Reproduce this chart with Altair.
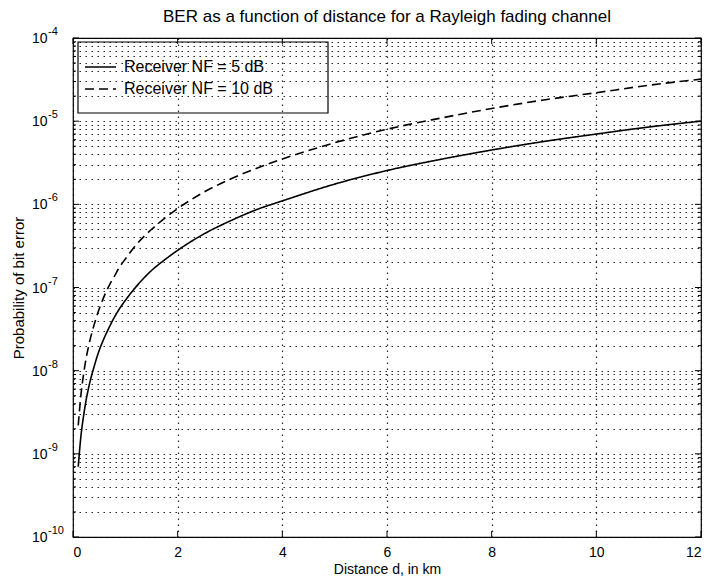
import altair as alt
import pandas as pd

FONT = "Liberation Sans"

# ---- data ----
distance_km = [0.1, 0.15, 0.2, 0.25, 0.3, 0.4, 0.5, 0.6, 0.7, 0.8, 0.9, 1.0, 1.25, 1.5,
               1.75, 2.0, 2.5, 3.0, 3.5, 4.0, 5.0, 6.0, 7.0, 8.0, 9.0, 10.0, 11.0, 12.0]
ber_nf5 = [7.0e-10, 1.6e-9, 2.8e-9, 4.4e-9, 6.3e-9, 1.1e-8, 1.75e-8, 2.5e-8, 3.4e-8,
           4.5e-8, 5.7e-8, 7.0e-8, 1.1e-7, 1.6e-7, 2.15e-7, 2.8e-7, 4.4e-7, 6.3e-7,
           8.6e-7, 1.1e-6, 1.75e-6, 2.55e-6, 3.45e-6, 4.5e-6, 5.7e-6, 7.0e-6, 8.5e-6, 1.0e-5]
ber_nf10 = [2.2e-9, 5.0e-9, 8.9e-9, 1.4e-8, 2.0e-8, 3.5e-8, 5.5e-8, 8.0e-8, 1.08e-7,
            1.4e-7, 1.8e-7, 2.2e-7, 3.5e-7, 5.0e-7, 6.8e-7, 8.9e-7, 1.4e-6, 2.0e-6,
            2.7e-6, 3.5e-6, 5.5e-6, 8.0e-6, 1.08e-5, 1.42e-5, 1.8e-5, 2.2e-5, 2.7e-5, 3.2e-5]
series_names = ["Receiver NF = 5 dB", "Receiver NF = 10 dB"]
x_ticks = [0, 2, 4, 6, 8, 10, 12]
decade_exponents = [-10, -9, -8, -7, -6, -5, -4]
minor_multipliers = [1, 2, 3, 4, 5, 6, 7, 8, 9]

W, H = 628, 499

y_tick_values = [m * 10.0 ** e for e in decade_exponents[:-1] for m in minor_multipliers] + [10.0 ** decade_exponents[-1]]
y_tick_major = [m == 1 for e in decade_exponents[:-1] for m in minor_multipliers] + [True]

df = pd.DataFrame({
    "d": distance_km * 2,
    "ber": ber_nf5 + ber_nf10,
    "series": [series_names[0]] * len(distance_km) + [series_names[1]] * len(distance_km),
})
yt_df = pd.DataFrame({"v": y_tick_values, "major": y_tick_major})
xt_df = pd.DataFrame({"v": x_ticks})
dec_df = pd.DataFrame({
    "v": [10.0 ** e for e in decade_exponents],
    "base": ["10"] * len(decade_exponents),
    "exp": [str(e) for e in decade_exponents],
})
leg_df = pd.DataFrame({"series": series_names})

xscale = alt.Scale(domain=[0, 12], nice=False, zero=False)
yscale = alt.Scale(type="log", domain=[1e-10, 1e-4], nice=False)

GRID = dict(grid=True, gridColor="#111", gridDash=[1.5, 4.5], gridWidth=1.2, gridOpacity=0.9)

lines = alt.Chart(df).mark_line(color="black", strokeWidth=1.6, clip=True, interpolate="monotone").encode(
    x=alt.X("d:Q", scale=xscale, axis=alt.Axis(
        values=x_ticks, domain=False, ticks=False, tickSize=0, labelFontSize=14,
        labelPadding=8, labelFont=FONT, labelColor="black",
        title="Distance d, in km", titleFont=FONT, titleFontSize=14,
        titleFontWeight="normal", titleColor="black", titlePadding=3, **GRID)),
    y=alt.Y("ber:Q", scale=yscale, axis=alt.Axis(
        values=y_tick_values, labels=False, domain=False, ticks=False, tickSize=0,
        title="Probability of bit error", titleFont=FONT, titleFontSize=15,
        titleFontWeight="normal", titleColor="black", titleX=-55, titleY=H / 2,
        titleAngle=-90, titleAlign="center", titleBaseline="middle", **GRID)),
    strokeDash=alt.StrokeDash("series:N", scale=alt.Scale(domain=series_names, range=[[1, 0], [9, 5]]), legend=None),
    detail="series:N",
)

# inward ticks
def ytick(major, x0, x1):
    return alt.Chart(yt_df).transform_filter(alt.datum.major == major).mark_rule(color="black", strokeWidth=1).encode(
        y=alt.Y("v:Q", scale=yscale, axis=None), x=alt.value(x0), x2=alt.value(x1))

ticks = [
    ytick(True, 0, 6), ytick(False, 0, 3), ytick(True, W, W - 6), ytick(False, W, W - 3),
    alt.Chart(xt_df).mark_rule(color="black").encode(x=alt.X("v:Q", scale=xscale, axis=None), y=alt.value(H), y2=alt.value(H - 6)),
    alt.Chart(xt_df).mark_rule(color="black").encode(x=alt.X("v:Q", scale=xscale, axis=None), y=alt.value(0), y2=alt.value(6)),
]

# y tick labels as 10 with superscript exponent
ylab_base = alt.Chart(dec_df).mark_text(align="left", baseline="middle", fontSize=14, font=FONT, color="black", dy=1).encode(
    y=alt.Y("v:Q", scale=yscale, axis=None), x=alt.value(-41), text="base:N")
ylab_exp = alt.Chart(dec_df).mark_text(align="left", baseline="middle", fontSize=11, font=FONT, color="black", dy=-6).encode(
    y=alt.Y("v:Q", scale=yscale, axis=None), x=alt.value(-25), text="exp:N")

# legend (manual)
leg_box = alt.Chart(leg_df.head(1)).mark_rect(fill="transparent", stroke="black", strokeWidth=1.2).encode(
    x=alt.value(5), x2=alt.value(255), y=alt.value(4), y2=alt.value(75))
leg_items = []
for i, (yy, dash) in enumerate([(29, [1, 0]), (51, [9, 5])]):
    src = alt.Chart(leg_df).transform_filter(alt.datum.series == series_names[i])
    leg_items.append(src.mark_rule(color="black", strokeWidth=1.6, strokeDash=dash).encode(
        x=alt.value(12), x2=alt.value(43), y=alt.value(yy)))
    leg_items.append(src.mark_text(align="left", baseline="middle", fontSize=16, font=FONT, color="black").encode(
        x=alt.value(51), y=alt.value(yy), text="series:N"))

chart = alt.layer(lines, *ticks, ylab_base, ylab_exp, leg_box, *leg_items).resolve_axis(
    x="independent", y="independent"
).properties(
    width=W, height=H,
    title=alt.TitleParams("BER as a function of distance for a Rayleigh fading channel",
                          font=FONT, fontSize=17, fontWeight="normal", color="black",
                          anchor="middle", frame="group", offset=0),
    autosize=alt.AutoSizeParams(type="none"),
    padding={"left": 65, "top": 30, "right": 4, "bottom": 40},
).configure_view(stroke="black", strokeWidth=1.2)

chart.save("out.html", embed_options={"renderer": "svg", "actions": False})
